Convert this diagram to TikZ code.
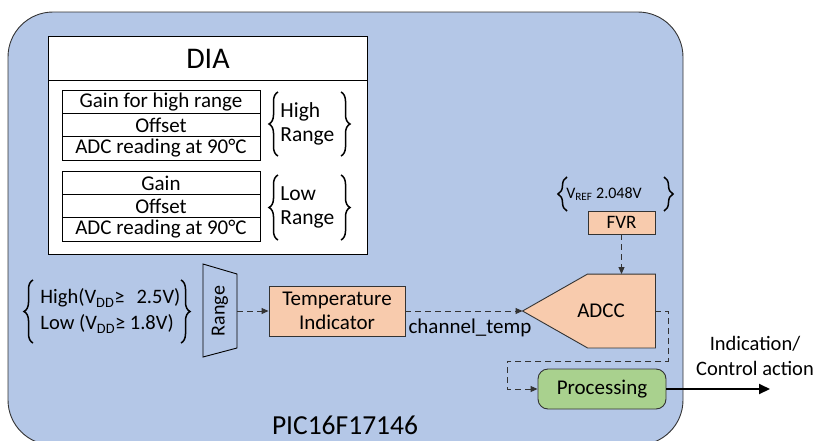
\documentclass[tikz,border=0pt]{standalone}
\usepackage{fontspec}
\setmainfont{Carlito}
\usepackage{xcolor}
\usetikzlibrary{arrows.meta, positioning, calc, decorations.pathreplacing}
\definecolor{chipblue}{HTML}{B4C7E7}
\definecolor{peachfill}{HTML}{F8CBAD}
\definecolor{procgreen}{HTML}{A9D18E}

\begin{document}
\begin{tikzpicture}[x=1pt, y=-1pt, line width=0.9pt,
  every node/.style={font=\fontsize{21}{24}\selectfont, inner sep=0pt},
  cell/.style={draw, fill=white, minimum width=198, minimum height=23.3},
  peach/.style={draw=black!80, fill=peachfill},
  flow/.style={draw=black!80, dash pattern=on 6pt off 4pt, -{Triangle[length=7pt,width=6pt]}},
  brc/.style={decorate, decoration={brace, amplitude=9pt}, line width=1.5pt}]
\useasboundingbox (0,0) rectangle (817,440);
\draw[fill=chipblue, draw=black!80, rounded corners=45] (8,12) rectangle (683,445);
\node[font=\fontsize{27.5}{30}\selectfont] (chipname) at (345,425) {PIC16F17146};
% DIA block
\node[draw, fill=white, minimum width=319, minimum height=174, anchor=north west] (diabody) at (48,80) {};
\node[draw, fill=white, minimum width=319, minimum height=44, anchor=north west, font=\fontsize{30}{32}\selectfont] (diahead) at (48,36) {DIA};
\foreach \n/\y/\txt in {hg/102/Gain for high range, ho/125.5/Offset, ha/148.5/ADC reading at 90°C,
                        lg/183/Gain, lo/206.5/Offset, la/229.5/ADC reading at 90°C}
  { \node[cell] (\n) at (161,\y) {\txt}; }
\node[align=left, anchor=west, font=\fontsize{21.5}{24}\selectfont] (hilbl) at (280,124) {High\\Range};
\node[align=left, anchor=west, font=\fontsize{21.5}{24}\selectfont] (lolbl) at (280,207) {Low\\Range};
\draw[brc] (278,156) -- (278,92);  \draw[brc] (341,92) -- (341,156);
\draw[brc] (278,240) -- (278,175); \draw[brc] (341,175) -- (341,240);
% supply range
\node[align=left, anchor=west, font=\fontsize{20.5}{26}\selectfont] (vdd) at (40,311)
  {High(V\textsubscript{DD}≥\hspace{12pt}2.5V)\\Low (V\textsubscript{DD}≥ 1.8V)};
\draw[brc] (33,343) -- (33,280); \draw[brc] (181,280) -- (181,343);
\draw[fill=none] (203,264) -- (237,274) -- (237,348) -- (203,357) -- cycle;
\node[rotate=90, minimum height=34, minimum width=74, font=\fontsize{20}{22}\selectfont] (rng) at (220,311) {Range};
% temperature path
\node[peach, minimum width=136, minimum height=50, align=center] (ti) at (337,311) {Temperature\\Indicator};
\node (adcc) [minimum width=132, minimum height=73] at (589,311) {};
\draw[peach] (adcc.west) -- ($(adcc.north west)+(65,0)$) -- (adcc.north east) -- (adcc.south east) -- ($(adcc.south west)+(65,0)$) -- cycle;
\node (adcclbl) at (601,311) {ADCC};
\node[peach, minimum width=67, minimum height=23, font=\fontsize{19}{21}\selectfont] (fvr) at (621.5,222.5) {FVR};
\node[font=\fontsize{16}{18}\selectfont] (vref) at (604,194) {V\textsubscript{REF} 2.048V};
\draw[brc] (567,211) -- (567,177); \draw[brc] (664,177) -- (664,211);
\node[draw=black!80, fill=procgreen, rounded corners=10, minimum width=128, minimum height=40] (proc) at (602,389) {Processing};
\coordinate (out) at (770,389);
\node[align=center, font=\fontsize{20.5}{25}\selectfont] (outlbl) at (755,356) {Indication/\\Control action};
\node (chlbl) at (470,328) {channel\_temp};
\draw[flow] (rng.south) -- (ti.west);
\draw[flow] (ti.east) -- (adcc.west);
\draw[flow] (fvr.south) -- (fvr.south |- adcc.north);
\draw[flow] (adcc.east) -- ++(13,0) -- ++(0,50) -- ++(-161,0) |- (proc.west);
\draw[-{Triangle[length=11pt,width=10pt]}, line width=2pt] (proc.east) -- (out);
\end{tikzpicture}
\end{document}
